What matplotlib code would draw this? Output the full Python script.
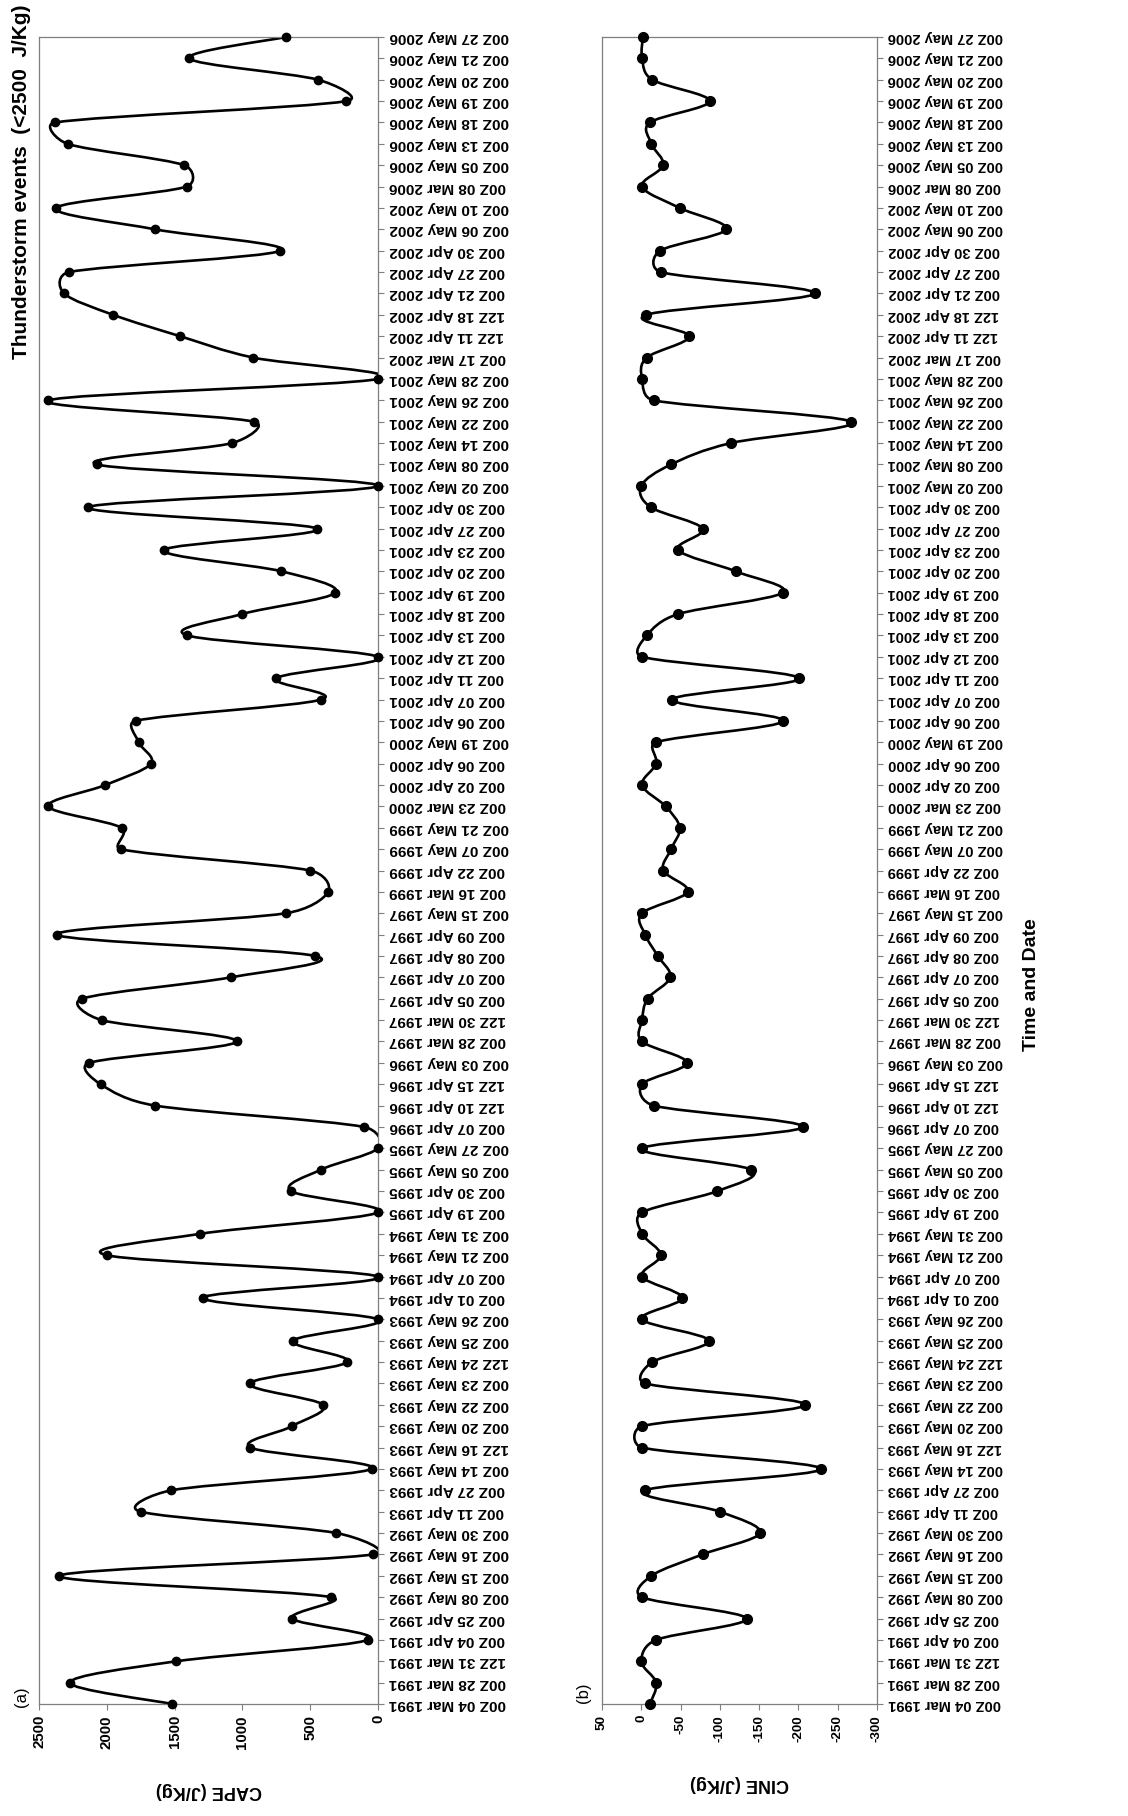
import numpy as np
import matplotlib
matplotlib.use("Agg")
import matplotlib.pyplot as plt
from matplotlib.path import Path
from matplotlib.patches import PathPatch

plt.rcParams['font.family'] = ['Liberation Sans', 'DejaVu Sans']

# chronological order (first = bottom of the rotated chart)
dates = [
    "00Z 04 Mar 1991", "00Z 28 Mar 1991", "12Z 31 Mar 1991", "00Z 04 Apr 1991",
    "00Z 25 Apr 1992", "00Z 08 May 1992", "00Z 15 May 1992", "00Z 16 May 1992",
    "00Z 30 May 1992", "00Z 11 Apr 1993", "00Z 27 Apr 1993", "00Z 14 May 1993",
    "12Z 16 May 1993", "00Z 20 May 1993", "00Z 22 May 1993", "00Z 23 May 1993",
    "12Z 24 May 1993", "00Z 25 May 1993", "00Z 26 May 1993", "00Z 01 Apr 1994",
    "00Z 07 Apr 1994", "00Z 21 May 1994", "00Z 31 May 1994", "00Z 19 Apr 1995",
    "00Z 30 Apr 1995", "00Z 05 May 1995", "00Z 27 May 1995", "00Z 07 Apr 1996",
    "12Z 10 Apr 1996", "12Z 15 Apr 1996", "00Z 03 May 1996", "00Z 28 Mar 1997",
    "12Z 30 Mar 1997", "00Z 05 Apr 1997", "00Z 07 Apr 1997", "00Z 08 Apr 1997",
    "00Z 09 Apr 1997", "00Z 15 May 1997", "00Z 16 Mar 1999", "00Z 22 Apr 1999",
    "00Z 07 May 1999", "00Z 21 May 1999", "00Z 23 Mar 2000", "00Z 02 Apr 2000",
    "00Z 06 Apr 2000", "00Z 19 May 2000", "00Z 06 Apr 2001", "00Z 07 Apr 2001",
    "00Z 11 Apr 2001", "00Z 12 Apr 2001", "00Z 13 Apr 2001", "00Z 18 Apr 2001",
    "00Z 19 Apr 2001", "00Z 20 Apr 2001", "00Z 23 Apr 2001", "00Z 27 Apr 2001",
    "00Z 30 Apr 2001", "00Z 02 May 2001", "00Z 08 May 2001", "00Z 14 May 2001",
    "00Z 22 May 2001", "00Z 26 May 2001", "00Z 28 May 2001", "00Z 17 Mar 2002",
    "12Z 11 Apr 2002", "12Z 18 Apr 2002", "00Z 21 Apr 2002", "00Z 27 Apr 2002",
    "00Z 30 Apr 2002", "00Z 06 May 2002", "00Z 10 May 2002", "00Z 08 Mar 2006",
    "00Z 05 May 2006", "00Z 13 May 2006", "00Z 18 May 2006", "00Z 19 May 2006",
    "00Z 20 May 2006", "00Z 21 May 2006", "00Z 27 May 2006",
]

cape = [
    1518, 2272, 1486, 74, 634, 344, 2350, 37, 307, 1751,
    1523, 47, 941, 634, 405, 946, 226, 626, 0, 1294,
    0, 2002, 1311, 0, 643, 422, 0, 103, 1643, 2046,
    2129, 1041, 2038, 2183, 1086, 462, 2370, 680, 368, 501,
    1898, 1891, 2431, 2011, 1675, 1765, 1788, 418, 749, 0,
    1407, 1002, 314, 712, 1577, 449, 2137, 0, 2075, 1076,
    916, 2431, 0, 921, 1459, 1953, 2314, 2279, 720, 1643,
    2375, 1412, 1429, 2289, 2382, 233, 442, 1393, 680,
]

cine = [
    -11, -19, 0, -19, -134, -1, -13, -78, -151, -100,
    -5, -229, -1, -1, -209, -5, -14, -86, -1, -52,
    -1, -25, -1, -1, -97, -140, -1, -206, -16, -1,
    -58, -1, -1, -8, -37, -21, -5, -1, -59, -28,
    -38, -49, -31, -1, -19, -19, -181, -39, -201, -1,
    -7, -47, -180, -120, -47, -78, -12, 0, -38, -114,
    -267, -16, -1, -7, -61, -6, -221, -25, -24, -108,
    -49, -1, -28, -13, -11, -87, -14, -1, -2,
]

cape_ticks = [2500, 2000, 1500, 1000, 500, 0]
cine_ticks = [50, 0, -50, -100, -150, -200, -250, -300]
cine_tick_labels = ["50", "0", "-50", "-100", "-150", "-200", "-250", "-300"]

W, H = 1128, 1816
fig = plt.figure(figsize=(W / 100, H / 100), dpi=100)

def fx(px):
    return px / W

def fy(py):
    return 1 - py / H

top_px, bot_px = 37, 1704
axa = fig.add_axes([fx(39), fy(bot_px), fx(378 - 39), (bot_px - top_px) / H])
axb = fig.add_axes([fx(602), fy(bot_px), fx(877 - 602), (bot_px - top_px) / H])

def smooth_path(ax, xs, ys):
    """Excel-style smoothed line: Bezier segments whose tangents are
    limited to half the segment length (computed in display space)."""
    data = np.column_stack([xs, ys]).astype(float)
    disp = ax.transData.transform(data)
    n = len(data)
    verts = [data[0]]
    codes = [Path.MOVETO]
    for i in range(n - 1):
        i0 = i - 1 if i > 0 else i
        i3 = i + 2 if i + 2 < n else i + 1
        d12 = np.hypot(*(disp[i + 1] - disp[i]))
        d02 = np.hypot(*(disp[i + 1] - disp[i0]))
        d13 = np.hypot(*(disp[i3] - disp[i]))
        f1 = 1 / 6.0
        if d02 / 6.0 >= d12 / 2.0 and d02 > 0:
            f1 = (d12 / 2.0) / d02
        f2 = 1 / 6.0
        if d13 / 6.0 >= d12 / 2.0 and d13 > 0:
            f2 = (d12 / 2.0) / d13
        c1 = data[i] + (data[i + 1] - data[i0]) * f1
        c2 = data[i + 1] - (data[i3] - data[i]) * f2
        verts += [c1, c2, data[i + 1]]
        codes += [Path.CURVE4] * 3
    return Path(verts, codes)

grey = "#7f7f7f"
idx = np.arange(len(dates))

def style_axes(ax, vals, xlim, xticks, xticklabels, xlabel, ms, datefs, tickfs):
    ax.set_xlim(*xlim)
    ax.set_ylim(0, len(dates) - 1)
    ax.add_patch(PathPatch(smooth_path(ax, vals, idx), fill=False, edgecolor="black",
                           linewidth=1.9, capstyle="round", joinstyle="round"))
    ax.plot(vals, idx, linestyle="none", marker="o", color="black",
            markersize=ms, clip_on=False, zorder=3)
    ax.set_xticks(xticks)
    ax.set_xticklabels(xticklabels, rotation=90, fontsize=tickfs, fontweight="bold")
    ax.set_yticks(idx)
    ax.set_yticklabels(dates, rotation=180, fontsize=datefs, fontweight="bold", va="center")
    ax.yaxis.tick_right()
    ax.tick_params(axis="both", direction="out", length=4, width=0.8, color=grey, pad=4)
    for s in ax.spines.values():
        s.set_color(grey)
        s.set_linewidth(0.9)
    ax.set_xlabel(xlabel, rotation=180, fontsize=13, fontweight="bold", labelpad=24)

style_axes(axa, cape, (2500, 0), cape_ticks, [str(t) for t in cape_ticks],
           "CAPE (J/Kg)", 6.0, 11, 10.8)
style_axes(axb, cine, (50, -300), cine_ticks, cine_tick_labels,
           "CINE (J/Kg)", 7.0, 10.5, 9.7)

fig.text(fx(21), fy(1697), "(a)", rotation=90, fontsize=12, ha="center", va="center")
fig.text(fx(584), fy(1693), "(b)", rotation=90, fontsize=12, ha="center", va="center")
fig.text(fx(22), fy(182), "Thunderstorm events  (<2500  J/Kg)", rotation=90,
         fontsize=15, fontweight="bold", ha="center", va="center")
fig.text(fx(1031), fy(985), "Time and Date", rotation=90, fontsize=14,
         fontweight="bold", ha="center", va="center")

fig.savefig("out.png", dpi=100, facecolor="white")
